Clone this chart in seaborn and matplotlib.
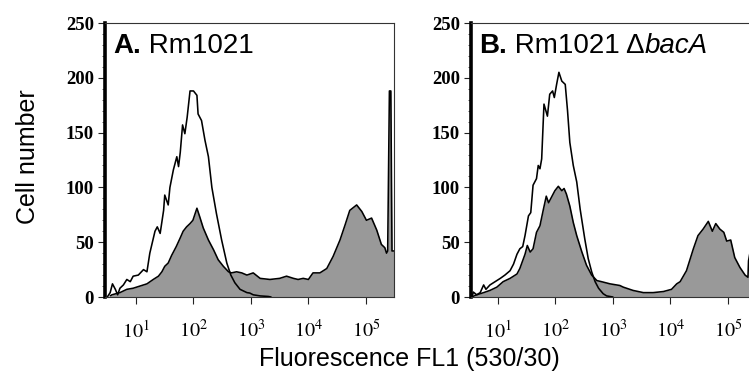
import numpy as np
import matplotlib
matplotlib.use("Agg")
import matplotlib.pyplot as plt
import seaborn as sns
from matplotlib.ticker import LogLocator, MultipleLocator, FuncFormatter, NullFormatter
from matplotlib.offsetbox import TextArea, HPacker, AnchoredOffsetbox

sns.set_style("ticks")
plt.rcParams['font.family'] = ['Liberation Sans', 'DejaVu Sans']
plt.rcParams['mathtext.fontset'] = 'stix'
plt.rcParams['text.color'] = 'black'
plt.rcParams['axes.labelcolor'] = 'black'

# fluorescence given as log10(FL1), counts
# panel A: Rm1021
a_open_logx = [0.50, 0.55, 0.59, 0.64, 0.68, 0.72, 0.78, 0.84, 0.90, 0.95, 1.04, 1.13, 1.19,
               1.24, 1.33, 1.37, 1.42, 1.48, 1.50, 1.56, 1.59, 1.65, 1.71, 1.74, 1.77, 1.81,
               1.85, 1.89, 1.94, 2.00, 2.06, 2.08, 2.14, 2.20, 2.26, 2.32, 2.40, 2.49, 2.58,
               2.65, 2.72, 2.81, 2.93, 2.98, 3.04, 3.16, 3.30, 3.35]
a_open_count = [0, 4, 12, 7, 2, 8, 11, 16, 14, 19, 20, 25, 23,
                40, 60, 64, 58, 79, 93, 84, 100, 116, 128, 119, 132, 157,
                149, 164, 188, 188, 184, 167, 161, 143, 128, 100, 76, 52, 31,
                20, 13, 7, 4, 3.6, 2, 1, 0.5, 0]
a_fill_logx = [0.55, 0.58, 0.72, 0.84, 0.95, 1.07, 1.19, 1.30, 1.39, 1.45, 1.50, 1.56, 1.62,
               1.70, 1.77, 1.82, 1.88, 1.94, 1.99, 2.06, 2.11, 2.17, 2.26, 2.35, 2.43, 2.52,
               2.61, 2.66, 2.75, 2.84, 2.93, 3.04, 3.16, 3.33, 3.50, 3.62, 3.74, 3.82, 3.91,
               4.00, 4.08, 4.20, 4.32, 4.43, 4.55, 4.64, 4.72, 4.84, 4.93, 5.01, 5.10, 5.19,
               5.27, 5.33, 5.36, 5.38, 5.41, 5.435, 5.455, 5.49]
a_fill_count = [1, 2, 4, 7, 8, 10, 12, 16, 19, 23, 28, 31, 38,
                46, 54, 60, 64, 67, 70, 81, 73, 63, 52, 43, 34, 28,
                23, 22, 23, 22, 20, 22, 17, 16, 17, 19, 17, 16, 17,
                16, 22, 22, 26, 37, 52, 66, 79, 84, 78, 70, 72, 61,
                48, 45, 40, 42, 188, 188, 42, 42]

# panel B: Rm1021 delta bacA
b_open_logx = [0.55, 0.57, 0.63, 0.69, 0.75, 0.79, 0.86, 0.95, 1.04, 1.12, 1.21, 1.27, 1.33,
               1.38, 1.43, 1.47, 1.53, 1.57, 1.61, 1.67, 1.70, 1.73, 1.76, 1.80, 1.86, 1.90,
               1.95, 1.98, 2.02, 2.06, 2.11, 2.17, 2.21, 2.25, 2.31, 2.37, 2.43, 2.51, 2.57,
               2.63, 2.69, 2.75, 2.83, 2.89, 3.00]
b_open_count = [0, 4.5, 2, 4, 11, 7, 11, 14, 17, 20, 24, 30, 39,
                44, 46, 56, 74, 77, 102, 108, 120, 117, 126, 176, 165, 185,
                188, 182, 194, 205, 197, 194, 170, 141, 120, 105, 80, 53, 35,
                23, 14, 8, 3, 1, 0]
b_fill_logx = [0.55, 0.60, 0.75, 0.86, 0.98, 1.09, 1.21, 1.33, 1.38, 1.47, 1.51, 1.56, 1.61,
               1.67, 1.73, 1.79, 1.84, 1.88, 1.93, 1.99, 2.05, 2.11, 2.15, 2.19, 2.25, 2.31,
               2.37, 2.46, 2.54, 2.63, 2.72, 2.80, 2.95, 3.12, 3.18, 3.35, 3.53, 3.70, 3.88,
               4.02, 4.11, 4.17, 4.28, 4.40, 4.48, 4.57, 4.66, 4.73, 4.79, 4.86, 4.93, 4.98,
               5.05, 5.12, 5.21, 5.30, 5.35, 5.36, 5.40, 5.49]
b_fill_count = [0, 1.5, 4, 6, 9, 14, 17, 21, 26, 39, 47, 41, 44,
                59, 65, 80, 92, 86, 91, 97, 101, 97, 99, 94, 83, 68,
                56, 41, 29, 20, 15, 14, 12, 10.5, 9, 6, 4, 4, 5,
                7, 12, 14, 24, 44, 56, 62, 69, 60, 67, 62, 59, 51,
                52, 36, 27, 20, 18, 33, 45, 45]

decades = [1, 2, 3, 4, 5]
y_ticks = [0, 50, 100, 150, 200, 250]

W, H = 749, 371
fig = plt.figure(figsize=(W / 100, H / 100), dpi=100)
ax_a = fig.add_axes([105 / W, 74 / H, 289 / W, 274 / H])
ax_b = fig.add_axes([471 / W, 74 / H, 285 / W, 274 / H])


def draw_panel(ax, fill_x, fill_y, open_x, open_y, xmin):
    ax.set_xscale('log')
    fx = 10 ** np.array(fill_x)
    ox = 10 ** np.array(open_x)
    ax.fill_between(fx, fill_y, 0, color='#999999', lw=0, zorder=1)
    sns.lineplot(x=fx, y=fill_y, ax=ax, color='black', lw=1.15, sort=False,
                 estimator=None, zorder=2)
    sns.lineplot(x=ox, y=open_y, ax=ax, color='black', lw=1.15, sort=False,
                 estimator=None, zorder=3)
    ax.set_xlim(10 ** xmin, 10 ** 5.49)
    ax.set_ylim(0, 250)
    ax.set_xlabel('')
    ax.set_ylabel('')

    ax.set_yticks(y_ticks)
    ax.yaxis.set_minor_locator(MultipleLocator(10))
    ax.set_xticks([10 ** d for d in decades])
    ax.xaxis.set_minor_locator(LogLocator(base=10, subs=np.arange(2, 10)))
    ax.xaxis.set_minor_formatter(NullFormatter())
    ax.xaxis.set_major_formatter(FuncFormatter(lambda v, p: r'$10^{%d}$' % round(np.log10(v))))

    ax.tick_params(axis='y', which='major', length=5, width=0.8, pad=3,
                   labelsize=13.5, colors='#222222', labelcolor='black')
    ax.tick_params(axis='y', which='minor', length=2.5, width=0.6, colors='#444444')
    ax.tick_params(axis='x', which='major', length=5, width=0.8, pad=11,
                   labelsize=14.5, colors='#222222', labelcolor='black')
    ax.tick_params(axis='x', which='minor', length=2.5, width=0.6, colors='#444444')
    for lab in ax.get_yticklabels():
        lab.set_family('Liberation Serif')
        lab.set_weight('bold')

    for side in ['top', 'right', 'bottom']:
        ax.spines[side].set_linewidth(0.8)
        ax.spines[side].set_color('#333333')
    ax.spines['left'].set_linewidth(2.6)
    ax.spines['left'].set_color('black')


draw_panel(ax_a, a_fill_logx, a_fill_count, a_open_logx, a_open_count, 0.46)
draw_panel(ax_b, b_fill_logx, b_fill_count, b_open_logx, b_open_count, 0.53)


def panel_title(ax, bold, rest, italic=None):
    props = dict(fontsize=20, family='Liberation Sans', color='black')
    parts = [TextArea(bold, textprops=dict(props, fontweight='bold')),
             TextArea(rest, textprops=props)]
    if italic:
        parts.append(TextArea(italic, textprops=dict(props, style='italic')))
    box = HPacker(children=parts, align='baseline', pad=0, sep=0)
    anch = AnchoredOffsetbox(loc='upper left', child=box, pad=0, borderpad=0,
                             frameon=False, bbox_to_anchor=(0.03, 0.965),
                             bbox_transform=ax.transAxes)
    ax.add_artist(anch)


panel_title(ax_a, 'A.', ' Rm1021')
panel_title(ax_b, 'B.', ' Rm1021 \u0394', 'bacA')

fig.text(28 / W, 1 - 157 / H, 'Cell number', rotation=90, ha='center', va='center',
         fontsize=18, color='black')
fig.text(409 / W, 1 - 366 / H, 'Fluorescence FL1 (530/30)', ha='center', va='baseline',
         fontsize=18, color='black')

fig.savefig('out.png', dpi=100)
